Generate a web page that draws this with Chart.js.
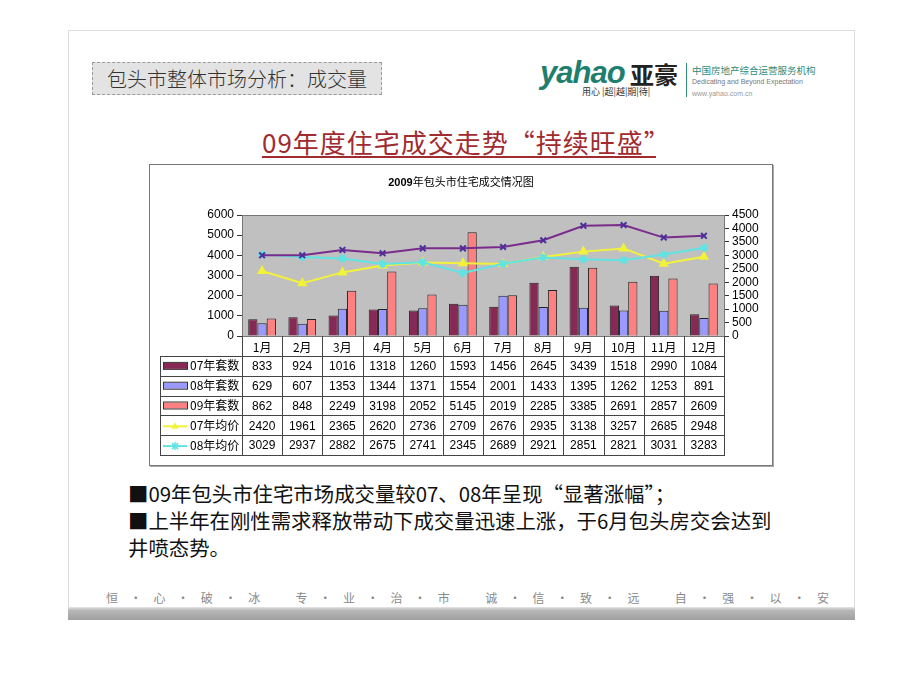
<!DOCTYPE html>
<html><head><meta charset="utf-8">
<script src="https://cdn.jsdelivr.net/npm/chart.js@4.4.1/dist/chart.umd.min.js"></script>
<style>
body{margin:0;width:920px;height:690px;background:#fff;position:relative;overflow:hidden;font-family:"Noto Sans CJK SC","Noto Sans",sans-serif;}
.abs{position:absolute;white-space:nowrap;}
#slide{left:68px;top:30px;width:787px;height:590px;border:1px solid #dcdcdc;box-sizing:border-box;}
#hdr{left:92px;top:62px;width:290px;height:33px;background:#e3e3e3;border:1px dashed #9a9a9a;box-sizing:border-box;font-size:20px;line-height:31px;color:#333;text-align:center;font-weight:300;}
#title{left:262px;top:127px;font-size:26px;line-height:30px;color:#a12b2f;letter-spacing:1px;}
#uline{left:262px;top:156px;width:394px;height:2px;background:#a12b2f;}
#logo1{left:540px;top:55px;font-family:"Liberation Sans",sans-serif;font-style:italic;font-weight:bold;font-size:31px;line-height:36px;color:#1f7f6e;letter-spacing:-1px;}
#logo2{left:630px;top:59px;font-size:24px;font-weight:bold;line-height:30px;color:#222;}
#logo3{left:582px;top:86px;font-size:9px;line-height:12px;color:#333;}
#vbar{left:686px;top:63px;width:1px;height:34px;background:#2f8a78;}
#logo4{left:692px;top:64px;font-size:9.5px;line-height:12px;color:#2f8a78;}
#logo5{left:692px;top:77px;font-size:7px;line-height:10px;color:#777;font-family:"Liberation Sans",sans-serif;}
#logo6{left:692px;top:89px;font-size:7px;line-height:10px;color:#999;font-family:"Liberation Sans",sans-serif;}
#box{left:149px;top:164px;width:624px;height:302px;border:1px solid #777;box-sizing:border-box;box-shadow:1px 1px 0 #aaa;}
#cwrap{left:150px;top:165px;width:622px;height:300px;}
#ctitle{left:150px;top:174px;width:622px;text-align:center;font-size:11px;line-height:14px;color:#000;}
.bul{left:128px;font-size:20.4px;line-height:26px;color:#111;}
#foot{left:88px;top:589px;width:760px;height:18px;font-size:12px;line-height:18px;color:#8a8a8a;}
#foot span{position:absolute;top:0;width:20px;text-align:center;}
#fbar{left:68px;top:607px;width:787px;height:13px;background:linear-gradient(#e6e6e6 0,#b8b8b8 25%,#a0a0a0 100%);}
</style></head>
<body>
<div id="slide" class="abs"></div>
<div id="hdr" class="abs">包头市整体市场分析：成交量</div>
<div id="logo1" class="abs">yahao</div>
<div id="logo2" class="abs">亚豪</div>
<div id="logo3" class="abs">用心 |超|越|期|待|</div>
<div id="vbar" class="abs"></div>
<div id="logo4" class="abs">中国房地产综合运营服务机构</div>
<div id="logo5" class="abs">Dedicating and Beyond Expectation</div>
<div id="logo6" class="abs">www.yahao.com.cn</div>
<div id="title" class="abs">09年度住宅成交走势“持续旺盛”</div>
<div id="uline" class="abs"></div>
<div id="box" class="abs"></div>
<div id="cwrap" class="abs"><canvas id="c"></canvas></div>
<div id="ctitle" class="abs"><b style="font-family:'Liberation Sans',sans-serif">2009</b>年包头市住宅成交情况图</div>
<div class="abs bul" style="top:480px">■09年包头市住宅市场成交量较07、08年呈现“显著涨幅”；</div>
<div class="abs bul" style="top:507px">■上半年在刚性需求释放带动下成交量迅速上涨，于6月包头房交会达到</div>
<div class="abs bul" style="top:534px">井喷态势。</div>
<div id="foot" class="abs"></div>
<div id="fbar" class="abs"></div>
<script>
// ---- data ----
const months = ['1月','2月','3月','4月','5月','6月','7月','8月','9月','10月','11月','12月'];
const sales07 = [833,924,1016,1318,1260,1593,1456,2645,3439,1518,2990,1084];
const sales08 = [629,607,1353,1344,1371,1554,2001,1433,1395,1262,1253,891];
const sales09 = [862,848,2249,3198,2052,5145,2019,2285,3385,2691,2857,2609];
const price07 = [2420,1961,2365,2620,2736,2709,2676,2935,3138,3257,2685,2948];
const price08 = [3029,2937,2882,2675,2741,2345,2689,2921,2851,2821,3031,3283];
const price09 = [3000,3000,3200,3075,3260,3260,3310,3560,4100,4125,3660,3725];
const leftTicks = [0,1000,2000,3000,4000,5000,6000];
const rightTicks = [0,500,1000,1500,2000,2500,3000,3500,4000,4500];
const footChars = ['恒','心','破','冰','专','业','治','市','诚','信','致','远','自','强','以','安'];

// footer
(function(){
  const f=document.getElementById('foot');
  const step=47.4;
  footChars.forEach((ch,i)=>{
    const s=document.createElement('span');s.textContent=ch;s.style.left=(14+i*step)+'px';f.appendChild(s);
    if(i%4!==3){const d=document.createElement('span');d.textContent='·';d.style.left=(14+i*step+step/2)+'px';f.appendChild(d);}
  });
})();

const C07='#862a55', C08='#9999ff', C09='#ff8080', CY='#f2f23a', CC='#5fe3e3', CP='#7a2c8c';
const rows = [
  {name:'07年套数', data:sales07, type:'bar', color:C07},
  {name:'08年套数', data:sales08, type:'bar', color:C08},
  {name:'09年套数', data:sales09, type:'bar', color:C09},
  {name:'07年均价', data:price07, type:'line', color:CY, marker:'triangle'},
  {name:'08年均价', data:price08, type:'line', color:CC, marker:'star'}
];

const bgPlugin = {
  id:'bg',
  beforeDraw(chart){
    const {ctx,chartArea:a}=chart;
    ctx.save();ctx.fillStyle='#c0c0c0';ctx.fillRect(a.left,a.top,a.right-a.left,a.bottom-a.top);ctx.restore();
  },
  afterDraw(chart){
    const {ctx,chartArea:a,scales:{x}}=chart;
    ctx.save();
    ctx.strokeStyle='#777';ctx.lineWidth=1;
    ctx.strokeRect(Math.round(a.left)+0.5,Math.round(a.top)+0.5,Math.round(a.right-a.left),Math.round(a.bottom-a.top));
    // table
    const n=months.length, colW=(a.right-a.left)/n, hH=20, rH=19.8, labL=10;
    const top=Math.round(a.bottom), hb=top+hH, bottom=hb+rH*rows.length;
    ctx.strokeStyle='#444';
    const L=(x1,y1,x2,y2)=>{ctx.beginPath();ctx.moveTo(x1,y1);ctx.lineTo(x2,y2);ctx.stroke();};
    for(let i=0;i<=n;i++){const xx=Math.round(a.left+i*colW)+0.5;L(xx,top,xx,Math.round(bottom)+0.5);}
    L(labL+0.5,Math.round(hb)+0.5,labL+0.5,Math.round(bottom)+0.5);
    for(let r=0;r<=rows.length;r++){const yy=Math.round(hb+r*rH)+0.5;L(labL,yy,Math.round(a.right)+1,yy);}
    ctx.fillStyle='#000';ctx.textAlign='center';ctx.textBaseline='middle';
    ctx.font='12px "Noto Sans CJK SC", sans-serif';
    months.forEach((m,i)=>ctx.fillText(m,x.getPixelForValue(i),top+hH/2+1));
    rows.forEach((row,r)=>{
      const cy=hb+r*rH+rH/2;
      if(row.type==='bar'){
        ctx.fillStyle=row.color;ctx.fillRect(13,cy-3,24,6);ctx.strokeStyle='#333';ctx.strokeRect(13.5,cy-3.5,24,7);
      } else {
        ctx.strokeStyle=row.color;ctx.lineWidth=2;L(13,cy+1,37,cy+1);ctx.lineWidth=1;
        ctx.fillStyle=row.color;ctx.beginPath();
        if(row.marker==='triangle'){ctx.moveTo(25,cy-3);ctx.lineTo(28.5,cy+3.5);ctx.lineTo(21.5,cy+3.5);ctx.closePath();ctx.fill();}
        else {ctx.strokeStyle=row.color;ctx.lineWidth=1.5;L(22,cy-2,28,cy+4);L(28,cy-2,22,cy+4);L(25,cy-3,25,cy+5);ctx.lineWidth=1;}
      }
      ctx.strokeStyle='#444';
      ctx.fillStyle='#000';ctx.textAlign='left';
      ctx.font='12px "Noto Sans CJK SC", sans-serif';
      ctx.fillText(row.name,40,cy);
      ctx.textAlign='center';
      ctx.font='12px "Liberation Sans", Arial, sans-serif';
      row.data.forEach((v,i)=>ctx.fillText(String(v),x.getPixelForValue(i),cy+1));
    });
    ctx.restore();
  }
};

const barDs=(label,data,color)=>({type:'bar',label,data,backgroundColor:color,borderColor:'#222',borderWidth:1,
  categoryPercentage:0.69,barPercentage:1,yAxisID:'y',order:3});
const lineDs=(label,data,color,style,pc,ord)=>({type:'line',label,data,borderColor:color,backgroundColor:color,
  pointBorderColor:pc||color,pointBackgroundColor:color,borderWidth:2,pointStyle:style,pointRadius:4,pointBorderWidth:2,
  tension:0,yAxisID:'y1',order:ord});
const tickFont={family:'"Liberation Sans", Arial, sans-serif',size:12};

new Chart(document.getElementById('c'),{
  data:{labels:months,datasets:[
    barDs('07年套数',sales07,C07),
    barDs('08年套数',sales08,C08),
    barDs('09年套数',sales09,C09),
    lineDs('07年均价',price07,CY,'triangle',CY,2),
    lineDs('08年均价',price08,CC,'star',CC,1),
    lineDs('09年均价',price09,CP,'crossRot','#4a2f9a',0)
  ]},
  options:{
    responsive:true,maintainAspectRatio:false,animation:false,
    layout:{padding:{top:50,left:0,right:0,bottom:0}},
    plugins:{legend:{display:false},tooltip:{enabled:false},title:{display:false}},
    scales:{
      x:{ticks:{display:false},grid:{display:false},border:{display:false},afterFit(s){s.height=129;}},
      y:{position:'left',min:0,max:6000,afterBuildTicks(s){s.ticks=leftTicks.map(v=>({value:v}));},
        ticks:{color:'#000',font:tickFont,padding:3,autoSkip:false,callback:v=>String(v)},
        grid:{drawOnChartArea:false,drawTicks:true,tickLength:5,color:'#333'},border:{display:true,color:'#555'},
        afterFit(s){s.width=92;}},
      y1:{position:'right',min:0,max:4500,afterBuildTicks(s){s.ticks=rightTicks.map(v=>({value:v}));},
        ticks:{color:'#000',font:tickFont,padding:3,autoSkip:false,callback:v=>String(v)},
        grid:{drawOnChartArea:false,drawTicks:true,tickLength:5,color:'#333'},border:{display:true,color:'#555'},
        afterFit(s){s.width=48;}}
    }
  },
  plugins:[bgPlugin]
});
</script>
</body></html>
